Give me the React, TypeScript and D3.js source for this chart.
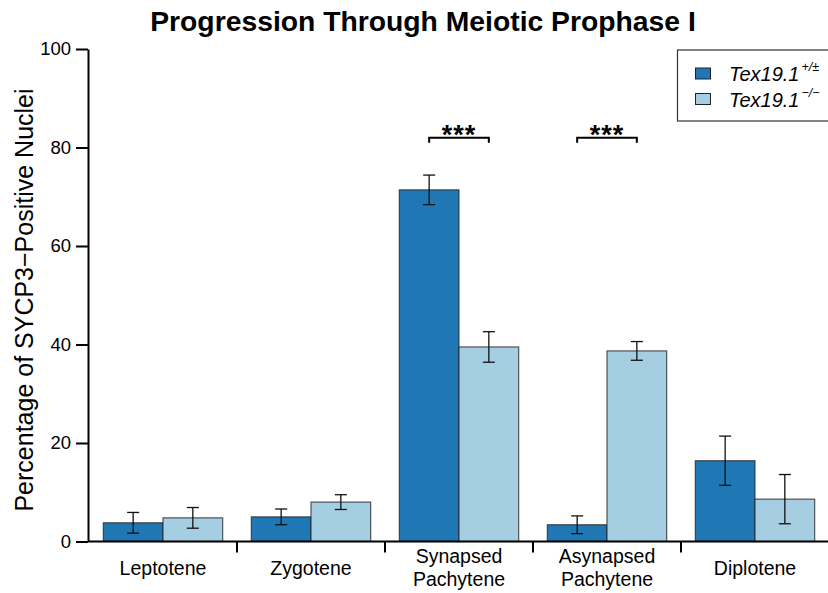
import React, { useEffect, useRef } from "react";
import * as d3 from "d3";

const stages = ["Leptotene", "Zygotene", "Synapsed\nPachytene", "Asynapsed\nPachytene", "Diplotene"];
const wildType = [3.8, 5.0, 71.4, 3.4, 16.4];
const wildTypeErr = [2.1, 1.6, 3.0, 1.8, 5.0];
const knockout = [4.8, 8.0, 39.5, 38.7, 8.6];
const knockoutErr = [2.1, 1.5, 3.1, 1.9, 5.0];
const yTicks = [0, 20, 40, 60, 80, 100];
// significance brackets: category index and bracket height
const sigStages = [2, 3];
const sigLevel = 82;

const colors = ["#1f78b4", "#a6cee3"];
const font = "'Liberation Sans', Arial, sans-serif";

export default function App() {
  const ref = useRef<SVGSVGElement>(null);

  useEffect(() => {
    const width = 828;
    const svg = d3.select(ref.current);
    svg.selectAll("*").remove();

    const x = d3.scaleBand<number>()
      .domain(d3.range(stages.length))
      .range([89, 829])
      .paddingInner(0)
      .paddingOuter(0);
    const inner = d3.scaleBand<number>()
      .domain([0, 1])
      .range([0, x.bandwidth()])
      .paddingOuter(0.24);
    const y = d3.scaleLinear().domain([0, 100]).range([541.5, 49]);

    const series = [
      { vals: wildType, errs: wildTypeErr },
      { vals: knockout, errs: knockoutErr },
    ];

    // bars
    series.forEach((s, si) => {
      const g = svg.append("g");
      g.selectAll("rect")
        .data(s.vals)
        .enter()
        .append("rect")
        .attr("x", (d, i) => x(i)! + inner(si)!)
        .attr("y", (d) => y(d))
        .attr("width", inner.bandwidth())
        .attr("height", (d) => y(0) - y(d))
        .attr("fill", colors[si])
        .attr("stroke", "#222")
        .attr("stroke-opacity", 0.75)
        .attr("stroke-width", 1.2);
    });

    // error bars
    series.forEach((s, si) => {
      const g = svg.append("g").attr("stroke", "#111").attr("stroke-width", 1.3);
      s.vals.forEach((v, i) => {
        const cx = x(i)! + inner(si)! + inner.bandwidth() / 2;
        const top = y(v + s.errs[i]);
        const bot = y(v - s.errs[i]);
        g.append("line").attr("x1", cx).attr("x2", cx).attr("y1", top).attr("y2", bot);
        g.append("line").attr("x1", cx - 6).attr("x2", cx + 6).attr("y1", top).attr("y2", top);
        g.append("line").attr("x1", cx - 6).attr("x2", cx + 6).attr("y1", bot).attr("y2", bot);
      });
    });

    // x axis
    svg.append("line")
      .attr("x1", 88).attr("x2", width)
      .attr("y1", y(0)).attr("y2", y(0))
      .attr("stroke", "#000").attr("stroke-width", 2);
    svg.append("g").selectAll("line")
      .data(d3.range(1, stages.length))
      .enter()
      .append("line")
      .attr("x1", (i) => x(i)!)
      .attr("x2", (i) => x(i)!)
      .attr("y1", y(0))
      .attr("y2", y(0) + 11)
      .attr("stroke", "#000")
      .attr("stroke-width", 2);

    const labels = svg.append("g")
      .attr("font-family", font)
      .attr("font-size", 19.5)
      .attr("text-anchor", "middle")
      .attr("fill", "#000");
    stages.forEach((s, i) => {
      const lines = s.split("\n");
      const cx = x(i)! + x.bandwidth() / 2;
      const t = labels.append("text").attr("x", cx);
      if (lines.length === 1) {
        t.attr("y", 575).text(lines[0]);
      } else {
        t.append("tspan").attr("x", cx).attr("y", 563).text(lines[0]);
        t.append("tspan").attr("x", cx).attr("y", 586).text(lines[1]);
      }
    });

    // y axis
    const yAxis = svg.append("g")
      .attr("transform", "translate(88,0)")
      .call(d3.axisLeft(y).tickValues(yTicks).tickSize(12).tickPadding(5).tickSizeOuter(0));
    yAxis.select(".domain").attr("stroke-width", 2);
    yAxis.selectAll(".tick line").attr("stroke-width", 2);
    yAxis.selectAll(".tick text")
      .attr("font-family", font)
      .attr("font-size", 18.5)
      .attr("fill", "#000");

    svg.append("text")
      .attr("transform", "translate(33,300) rotate(-90)")
      .attr("text-anchor", "middle")
      .attr("font-family", font)
      .attr("font-size", 25)
      .text("Percentage of SYCP3\u2212Positive Nuclei");

    // significance brackets
    sigStages.forEach((i) => {
      const x1 = x(i)! + inner(0)! + inner.bandwidth() / 2;
      const x2 = x(i)! + inner(1)! + inner.bandwidth() / 2;
      const yy = y(sigLevel);
      svg.append("path")
        .attr("d", `M${x1},${yy + 5}V${yy}H${x2}V${yy + 5}`)
        .attr("fill", "none")
        .attr("stroke", "#000")
        .attr("stroke-width", 2);
      svg.append("text")
        .attr("x", (x1 + x2) / 2)
        .attr("y", yy + 6)
        .attr("text-anchor", "middle")
        .attr("font-family", font)
        .attr("font-size", 27)
        .attr("font-weight", "bold")
        .attr("letter-spacing", 1)
        .text("***");
    });

    // title
    svg.append("text")
      .attr("x", 423)
      .attr("y", 31)
      .attr("text-anchor", "middle")
      .attr("font-family", font)
      .attr("font-size", 28.3)
      .attr("font-weight", "bold")
      .text("Progression Through Meiotic Prophase I");

    // legend
    const legend = svg.append("g");
    legend.append("rect")
      .attr("x", 677.5).attr("y", 50)
      .attr("width", 160).attr("height", 71)
      .attr("fill", "#fff")
      .attr("stroke", "#333")
      .attr("stroke-width", 1.2);
    const legendLabels = ["+/\u00b1", "\u2212/\u2212"];
    legendLabels.forEach((sup, i) => {
      const ly = 68 + i * 25.5;
      legend.append("rect")
        .attr("x", 695.5).attr("y", ly)
        .attr("width", 15).attr("height", 11)
        .attr("fill", colors[i])
        .attr("stroke", "#222")
        .attr("stroke-width", 1);
      const t = legend.append("text")
        .attr("x", 729)
        .attr("y", ly + 13)
        .attr("font-family", font)
        .attr("font-size", 20)
        .attr("font-style", "italic");
      t.append("tspan").text("Tex19.1");
      t.append("tspan")
        .attr("font-size", 12.5)
        .attr("dy", -10)
        .attr("dx", 2)
        .text(sup);
    });
  }, []);

  return (
    <svg ref={ref} width={828} height={593} style={{ display: "block", position: "absolute", left: 0, top: 0 }} />
  );
}
